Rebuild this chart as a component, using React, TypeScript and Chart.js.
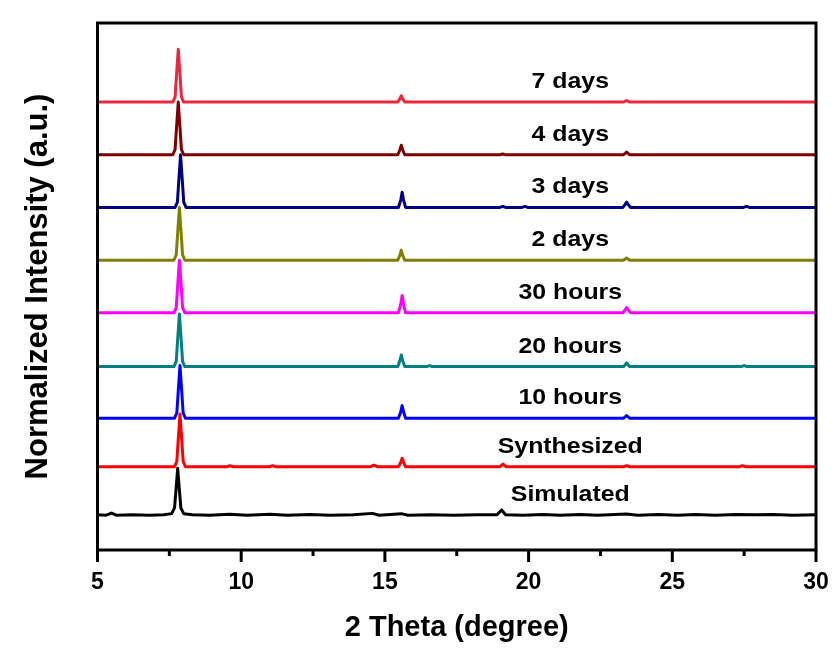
import React, { useEffect, useRef } from "react";
import { Chart, registerables } from "chart.js";

Chart.register(...registerables);

type Pt = [number, number];

// Sample names (top to bottom)
const seriesNames = ["7 days", "4 days", "3 days", "2 days", "30 hours", "20 hours", "10 hours", "Synthesized", "Simulated"];
const seriesColors = ["#e8283c", "#800000", "#000080", "#808000", "#ff00ff", "#008080", "#0000ff", "#ff0000", "#000000"];
// vertical stacking offsets (a.u.)
const seriesOffsets = [8.5, 7.5, 6.5, 5.5, 4.5, 3.48, 2.5, 1.58, 0.66];

// Normalized intensity patterns: [2θ, intensity]
const days7: Pt[] = [[5, 0], [7.62, 0], [7.7, 0.1], [7.75, 0.52], [7.81, 1.0], [7.87, 0.52], [7.92, 0.1], [8.0, 0], [15.45, 0], [15.52, 0.06], [15.57, 0.12], [15.62, 0.06], [15.69, 0], [23.3, 0], [23.41, 0.03], [23.52, 0], [30, 0]];
const days4: Pt[] = [[5, 0], [7.62, 0], [7.7, 0.1], [7.75, 0.52], [7.81, 1.0], [7.87, 0.52], [7.92, 0.1], [8.0, 0], [15.45, 0], [15.52, 0.09], [15.57, 0.18], [15.62, 0.09], [15.69, 0], [19.0, 0], [19.1, 0.015], [19.2, 0], [23.3, 0], [23.36, 0.025], [23.41, 0.05], [23.46, 0.025], [23.52, 0], [30, 0]];
const days3: Pt[] = [[5, 0], [7.7, 0], [7.78, 0.1], [7.83, 0.52], [7.89, 1.0], [7.95, 0.52], [8.0, 0.1], [8.08, 0], [15.47, 0], [15.55, 0.14], [15.6, 0.29], [15.65, 0.14], [15.72, 0], [19.0, 0], [19.1, 0.02], [19.2, 0], [19.77, 0], [19.87, 0.02], [19.97, 0], [23.28, 0], [23.35, 0.05], [23.41, 0.1], [23.47, 0.05], [23.55, 0], [27.48, 0], [27.58, 0.02], [27.68, 0], [30, 0]];
const days2: Pt[] = [[5, 0], [7.66, 0], [7.74, 0.1], [7.79, 0.52], [7.85, 1.0], [7.91, 0.52], [7.96, 0.1], [8.04, 0], [15.45, 0], [15.52, 0.09], [15.57, 0.19], [15.62, 0.09], [15.69, 0], [23.3, 0], [23.36, 0.02], [23.41, 0.04], [23.46, 0.02], [23.52, 0], [30, 0]];
const hours30: Pt[] = [[5, 0], [7.66, 0], [7.74, 0.1], [7.79, 0.52], [7.85, 1.0], [7.91, 0.52], [7.96, 0.1], [8.04, 0], [15.47, 0], [15.55, 0.16], [15.6, 0.33], [15.65, 0.16], [15.72, 0], [23.28, 0], [23.35, 0.05], [23.41, 0.1], [23.47, 0.05], [23.55, 0], [30, 0]];
const hours20: Pt[] = [[5, 0], [7.66, 0], [7.74, 0.1], [7.79, 0.52], [7.85, 1.0], [7.91, 0.52], [7.96, 0.1], [8.04, 0], [15.45, 0], [15.52, 0.11], [15.57, 0.22], [15.62, 0.11], [15.69, 0], [16.45, 0], [16.55, 0.02], [16.65, 0], [23.3, 0], [23.36, 0.035], [23.41, 0.07], [23.46, 0.035], [23.52, 0], [27.4, 0], [27.5, 0.02], [27.6, 0], [30, 0]];
const hours10: Pt[] = [[5, 0], [7.68, 0], [7.76, 0.1], [7.81, 0.52], [7.87, 1.0], [7.93, 0.52], [7.98, 0.1], [8.06, 0], [15.47, 0], [15.55, 0.12], [15.6, 0.24], [15.65, 0.12], [15.72, 0], [23.3, 0], [23.36, 0.025], [23.41, 0.05], [23.46, 0.025], [23.52, 0], [30, 0]];
const synthesized: Pt[] = [[5, 0], [7.68, 0], [7.76, 0.1], [7.81, 0.52], [7.87, 1.0], [7.93, 0.52], [7.98, 0.1], [8.06, 0], [9.5, 0], [9.61, 0.02], [9.72, 0], [10.98, 0], [11.09, 0.02], [11.2, 0], [14.5, 0], [14.62, 0.03], [14.74, 0], [15.47, 0], [15.55, 0.08], [15.6, 0.16], [15.65, 0.08], [15.72, 0], [19.0, 0], [19.11, 0.05], [19.22, 0], [23.3, 0], [23.41, 0.02], [23.52, 0], [27.33, 0], [27.44, 0.02], [27.55, 0], [30, 0]];
const simulated: Pt[] = [[5, 0.01], [5.3, 0], [5.49, 0.04], [5.65, 0], [6.2, 0.01], [6.8, 0], [7.3, 0.01], [7.58, 0.03], [7.68, 0.14], [7.73, 0.47], [7.79, 0.89], [7.85, 0.47], [7.9, 0.14], [8.0, 0.03], [8.3, 0.01], [8.9, 0], [9.6, 0.02], [10.2, 0], [11.0, 0.02], [11.6, 0], [12.4, 0.015], [13.1, 0], [13.9, 0.01], [14.57, 0.035], [14.8, 0], [15.57, 0.03], [15.8, 0], [16.6, 0.01], [17.4, 0], [18.2, 0.01], [18.9, 0.01], [19.06, 0.1], [19.2, 0.01], [19.8, 0], [20.5, 0.015], [21.1, 0], [21.8, 0.015], [22.4, 0], [23.0, 0.015], [23.4, 0.025], [23.8, 0], [24.5, 0.015], [25.2, 0], [25.8, 0.015], [26.5, 0], [27.2, 0.015], [27.9, 0.01], [28.5, 0.015], [29.2, 0], [30, 0.01]];

const seriesData: Pt[][] = [days7, days4, days3, days2, hours30, hours20, hours10, synthesized, simulated];

const xTicks = [5, 10, 15, 20, 25, 30];
const xMinorTicks = [7.5, 12.5, 17.5, 22.5, 27.5];
const xTitle = "2 Theta (degree)";
const yTitle = "Normalized Intensity (a.u.)";
const labelCenterX = 21.45;

const FONT = "Arial, 'Liberation Sans', sans-serif";

export default function App() {
  const ref = useRef<HTMLCanvasElement | null>(null);

  useEffect(() => {
    if (!ref.current) return;
    const datasets = seriesNames.map((name, i) => ({
      label: name,
      data: seriesData[i].map(([x, y]) => ({ x, y: y + seriesOffsets[i] })),
      borderColor: seriesColors[i],
      backgroundColor: seriesColors[i],
      borderWidth: 3,
      pointRadius: 0,
      tension: 0,
      fill: false,
      borderJoinStyle: "round" as const,
      borderCapStyle: "round" as const,
    }));

    const decor = {
      id: "decor",
      afterDatasetsDraw(chart: any) {
        const { ctx, chartArea: a, scales } = chart;
        const xs = scales.x;
        const ys = scales.y;
        ctx.save();
        // labels
        ctx.fillStyle = "#000";
        ctx.font = `bold 22px ${FONT}`;
        ctx.textAlign = "center";
        ctx.textBaseline = "alphabetic";
        seriesNames.forEach((name, i) => {
          const px = xs.getPixelForValue(labelCenterX);
          const py = ys.getPixelForValue(seriesOffsets[i]) - 14;
          ctx.save();
          ctx.translate(px, py);
          ctx.scale(1.13, 1);
          ctx.fillText(name, 0, 0);
          ctx.restore();
        });
        // frame
        ctx.strokeStyle = "#000";
        ctx.lineWidth = 3;
        ctx.strokeRect(a.left, a.top, a.right - a.left, a.bottom - a.top);
        // ticks
        ctx.beginPath();
        xTicks.forEach((v) => {
          const px = xs.getPixelForValue(v);
          ctx.moveTo(px, a.bottom);
          ctx.lineTo(px, a.bottom + 12);
        });
        xMinorTicks.forEach((v) => {
          const px = xs.getPixelForValue(v);
          ctx.moveTo(px, a.bottom);
          ctx.lineTo(px, a.bottom + 6);
        });
        ctx.stroke();
        ctx.restore();
      },
    };

    const chart = new Chart(ref.current, {
      type: "line",
      data: { datasets },
      options: {
        animation: false,
        responsive: false,
        maintainAspectRatio: false,
        layout: { padding: { top: 23, right: 21, left: 0, bottom: 0 } },
        plugins: { legend: { display: false }, tooltip: { enabled: false } },
        scales: {
          x: {
            type: "linear",
            min: 5,
            max: 30,
            afterBuildTicks: (scale: any) => {
              scale.ticks = xTicks.map((v) => ({ value: v }));
            },
            afterFit: (scale: any) => {
              scale.height = 107;
              scale.paddingLeft = 0;
              scale.paddingRight = 0;
            },
            ticks: {
              color: "#000",
              font: { family: FONT, size: 23, weight: "bold" },
              padding: 19,
              maxRotation: 0,
              callback: (v: any) => String(v),
            },
            grid: { display: false, drawTicks: false },
            border: { display: false },
            title: {
              display: true,
              text: xTitle,
              color: "#000",
              font: { family: FONT, size: 29, weight: "bold" },
              padding: { top: 0, bottom: 12 },
            },
          },
          y: {
            type: "linear",
            min: 0,
            max: 10,
            afterFit: (scale: any) => {
              scale.width = 97.5;
              scale.paddingTop = 0;
              scale.paddingBottom = 0;
            },
            ticks: { display: false },
            grid: { display: false, drawTicks: false },
            border: { display: false },
            title: {
              display: true,
              text: yTitle,
              color: "#000",
              font: { family: FONT, size: 31, weight: "bold" },
              padding: { top: 20, bottom: 0 },
            },
          },
        },
      },
      plugins: [decor],
    } as any);

    return () => chart.destroy();
  }, []);

  return (
    <div style={{ position: "fixed", left: 0, top: 0, width: 837, height: 657, background: "#fff" }}>
      <canvas ref={ref} width={837} height={657} style={{ width: 837, height: 657, display: "block" }} />
    </div>
  );
}
